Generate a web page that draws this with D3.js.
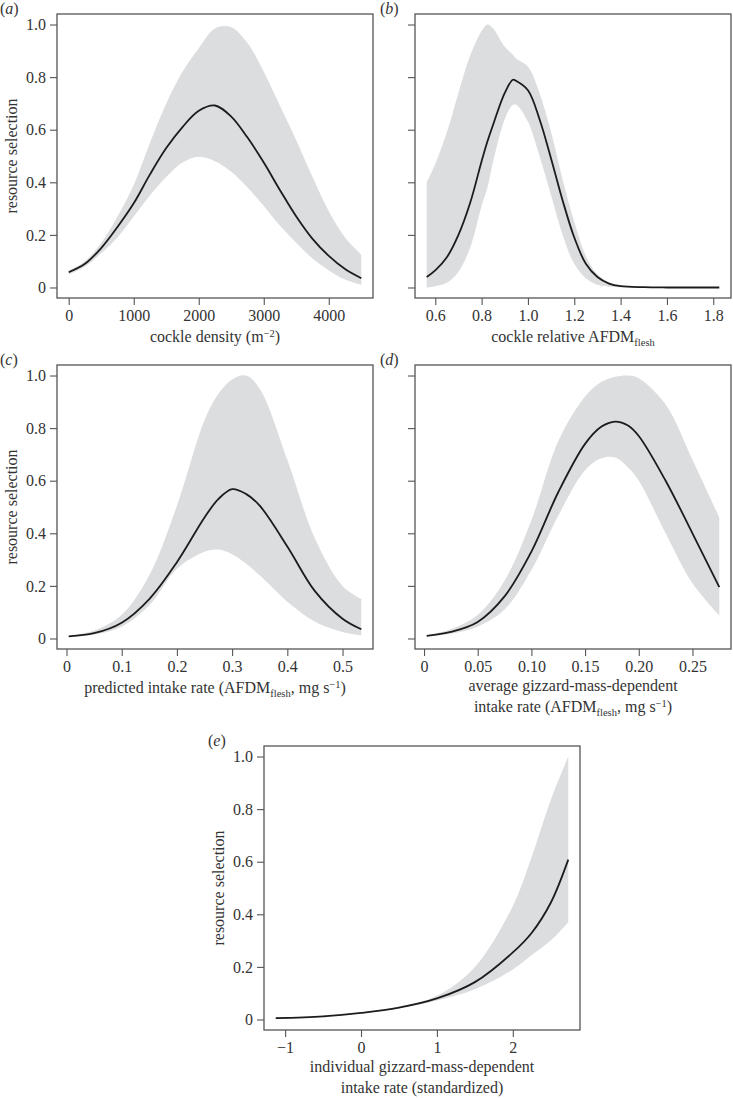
<!DOCTYPE html>
<html>
<head>
<meta charset="utf-8">
<script src="https://cdn.jsdelivr.net/npm/d3@7"></script>
<style>
  body { margin: 0; background: #fff; }
  svg { display: block; font-family: "Liberation Serif", "Times New Roman", serif; }
</style>
</head>
<body>
<svg></svg>
<script>
const yTicks = [0, 0.2, 0.4, 0.6, 0.8, 1.0]

// (a) cockle density
const densX = [0, 250, 500, 750, 1000, 1250, 1500, 1750, 2000, 2250, 2500, 2750, 3000, 3250, 3500, 3750, 4000, 4250, 4500]
const densMean = [0.058, 0.09, 0.15, 0.23, 0.32, 0.43, 0.53, 0.61, 0.672, 0.692, 0.65, 0.57, 0.475, 0.37, 0.27, 0.185, 0.12, 0.07, 0.035]
const densLo = [0.05, 0.08, 0.13, 0.19, 0.27, 0.35, 0.42, 0.475, 0.497, 0.48, 0.44, 0.38, 0.31, 0.235, 0.17, 0.11, 0.065, 0.03, 0.01]
const densHi = [0.065, 0.1, 0.17, 0.27, 0.39, 0.55, 0.70, 0.82, 0.91, 0.985, 0.99, 0.93, 0.82, 0.69, 0.56, 0.42, 0.29, 0.19, 0.125]
const densTicks = [0, 1000, 2000, 3000, 4000]

// (b) cockle relative AFDM flesh
const afdmX = [0.563, 0.6, 0.65, 0.7, 0.75, 0.8, 0.825, 0.85, 0.9, 0.935, 0.95, 1.0, 1.05, 1.1, 1.15, 1.2, 1.25, 1.3, 1.35, 1.4, 1.5, 1.6, 1.7, 1.826]
const afdmMean = [0.04, 0.065, 0.115, 0.2, 0.32, 0.48, 0.555, 0.62, 0.74, 0.79, 0.785, 0.75, 0.64, 0.49, 0.33, 0.19, 0.09, 0.04, 0.015, 0.005, 0.001, 0, 0, 0]
const afdmLo = [0, 0.005, 0.018, 0.06, 0.15, 0.31, 0.38, 0.48, 0.64, 0.695, 0.695, 0.63, 0.5, 0.35, 0.2, 0.09, 0.035, 0.01, 0.003, 0.001, 0, 0, 0, 0]
const afdmHi = [0.40, 0.47, 0.59, 0.74, 0.88, 0.975, 1.0, 0.985, 0.915, 0.885, 0.87, 0.84, 0.74, 0.59, 0.41, 0.25, 0.12, 0.05, 0.02, 0.008, 0.002, 0, 0, 0]
const afdmTicks = [0.6, 0.8, 1.0, 1.2, 1.4, 1.6, 1.8]

// (c) predicted intake rate
const predX = [0.004, 0.05, 0.1, 0.15, 0.2, 0.25, 0.275, 0.3, 0.325, 0.35, 0.4, 0.45, 0.5, 0.534]
const predMean = [0.008, 0.02, 0.06, 0.15, 0.29, 0.46, 0.53, 0.568, 0.55, 0.505, 0.35, 0.18, 0.075, 0.035]
const predLo = [0.006, 0.015, 0.045, 0.126, 0.265, 0.33, 0.338, 0.32, 0.285, 0.24, 0.14, 0.064, 0.025, 0.012]
const predHi = [0.01, 0.03, 0.09, 0.24, 0.505, 0.83, 0.93, 0.985, 1.0, 0.95, 0.68, 0.38, 0.2, 0.15]
const predTicks = [0, 0.1, 0.2, 0.3, 0.4, 0.5]

// (d) average gizzard-mass-dependent intake rate
const avgX = [0.0025, 0.025, 0.05, 0.075, 0.1, 0.125, 0.15, 0.165, 0.178, 0.19, 0.2, 0.225, 0.25, 0.275]
const avgMean = [0.01, 0.025, 0.063, 0.16, 0.33, 0.556, 0.74, 0.805, 0.825, 0.81, 0.77, 0.6, 0.4, 0.195]
const avgLo = [0.008, 0.018, 0.045, 0.11, 0.26, 0.467, 0.64, 0.685, 0.688, 0.65, 0.6, 0.4, 0.21, 0.088]
const avgHi = [0.012, 0.035, 0.09, 0.22, 0.45, 0.75, 0.92, 0.975, 0.995, 1.0, 0.99, 0.89, 0.68, 0.46]
const avgTicks = [0, 0.05, 0.10, 0.15, 0.20, 0.25]

// (e) individual gizzard-mass-dependent intake rate
const indX = [-1.124, -0.5, 0, 0.5, 1, 1.5, 2, 2.25, 2.5, 2.731]
const indMean = [0.005, 0.012, 0.025, 0.045, 0.08, 0.142, 0.255, 0.33, 0.444, 0.608]
const indLo = [0.005, 0.012, 0.024, 0.043, 0.072, 0.115, 0.19, 0.245, 0.3, 0.37]
const indHi = [0.005, 0.012, 0.026, 0.048, 0.09, 0.2, 0.432, 0.62, 0.835, 1.0]
const indTicks = [-1, 0, 1, 2]

const width = 733
const height = 1098
const boxW = 316
const boxH = 284
const ink = '#333'

const svg = d3.select('svg').attr('width', width).attr('height', height)

const zeroOr = f => d => d === 0 ? '0' : f(d)

const panels = [
  { tag: 'a', left: 57, top: 14, tagX: 0, showY: true, x: densX, mean: densMean, lo: densLo, hi: densHi,
    ticks: densTicks, fmt: d3.format('d'),
    title: [[{ t: 'cockle density (m' }, { t: '−2', sup: true }, { t: ')' }]] },
  { tag: 'b', left: 415, top: 14, tagX: 380, showY: false, x: afdmX, mean: afdmMean, lo: afdmLo, hi: afdmHi,
    ticks: afdmTicks, fmt: d3.format('.1f'),
    title: [[{ t: 'cockle relative AFDM' }, { t: 'flesh', sub: true }]] },
  { tag: 'c', left: 57, top: 365, tagX: 0, showY: true, x: predX, mean: predMean, lo: predLo, hi: predHi,
    ticks: predTicks, fmt: zeroOr(d3.format('.1f')),
    title: [[{ t: 'predicted intake rate (AFDM' }, { t: 'flesh', sub: true }, { t: ', mg s' }, { t: '−1', sup: true }, { t: ')' }]] },
  { tag: 'd', left: 415, top: 365, tagX: 380, showY: false, x: avgX, mean: avgMean, lo: avgLo, hi: avgHi,
    ticks: avgTicks, fmt: zeroOr(d3.format('.2f')),
    title: [[{ t: 'average gizzard-mass-dependent' }],
            [{ t: 'intake rate (AFDM' }, { t: 'flesh', sub: true }, { t: ', mg s' }, { t: '−1', sup: true }, { t: ')' }]] },
  { tag: 'e', left: 264, top: 746, tagX: 208, showY: true, x: indX, mean: indMean, lo: indLo, hi: indHi,
    ticks: indTicks, fmt: d3.format('d'),
    title: [[{ t: 'individual gizzard-mass-dependent' }], [{ t: 'intake rate (standardized)' }]] }
]

const writeLine = (text, parts) => {
  let shift = 0
  parts.forEach(p => {
    const target = p.sup ? -5 : p.sub ? 4 : 0
    text.append('tspan')
      .attr('dy', target - shift)
      .attr('font-size', p.sup || p.sub ? 10.5 : null)
      .text(p.t)
    shift = target
  })
}

const render = (p) => {
  const data = p.x.map((x, i) => ({ x: x, mean: p.mean[i], lo: p.lo[i], hi: p.hi[i] }))

  // R-style 4% padding on both axes
  const ext = d3.extent(p.x)
  const pad = (ext[1] - ext[0]) * 0.04
  const xScale = d3.scaleLinear().domain([ext[0] - pad, ext[1] + pad]).range([0, boxW])
  const yScale = d3.scaleLinear().domain([-0.04, 1.04]).range([boxH, 0])
  const curve = d3.curveCatmullRom.alpha(0.5)

  const g = svg.append('g').attr('transform', `translate(${p.left},${p.top})`)

  g.append('path')
    .datum(data)
    .attr('fill', '#dcdddf')
    .attr('d', d3.area()
      .x(d => xScale(d.x))
      .y0(d => yScale(d.lo))
      .y1(d => yScale(d.hi))
      .curve(curve))

  g.append('path')
    .datum(data)
    .attr('fill', 'none')
    .attr('stroke', '#1c1c1c')
    .attr('stroke-width', 1.8)
    .attr('d', d3.line()
      .x(d => xScale(d.x))
      .y(d => yScale(d.mean))
      .curve(curve))

  const xAxisG = g.append('g')
    .attr('transform', `translate(0,${boxH})`)
    .call(d3.axisBottom(xScale).tickValues(p.ticks).tickFormat(p.fmt).tickSize(7).tickPadding(5))
  const yAxisG = g.append('g')
    .call(d3.axisLeft(yScale).tickValues(yTicks).tickFormat(p.showY ? zeroOr(d3.format('.1f')) : '').tickSize(7).tickPadding(4))

  ;[xAxisG, yAxisG].forEach(a => {
    a.attr('font-family', null).attr('font-size', 16)
    a.select('.domain').remove()
    a.selectAll('line').attr('stroke', '#555').attr('stroke-width', 1.1)
    a.selectAll('text').attr('fill', ink)
  })

  g.append('rect')
    .attr('width', boxW).attr('height', boxH)
    .attr('fill', 'none').attr('stroke', '#555').attr('stroke-width', 1.3)

  p.title.forEach((line, i) => {
    const t = g.append('text')
      .attr('x', boxW / 2)
      .attr('y', boxH + (p.title.length > 1 ? 42 + i * 21 : 44))
      .attr('text-anchor', 'middle')
      .attr('font-size', 16)
      .attr('fill', ink)
    writeLine(t, line)
  })

  if (p.showY) {
    g.append('text')
      .attr('transform', `translate(-40,${boxH / 2}) rotate(-90)`)
      .attr('text-anchor', 'middle')
      .attr('font-size', 16)
      .attr('fill', ink)
      .text('resource selection')
  }

  const tag = svg.append('text')
    .attr('x', p.tagX)
    .attr('y', p.top)
    .attr('font-size', 16)
    .attr('fill', ink)
  tag.append('tspan').text('(')
  tag.append('tspan').attr('font-style', 'italic').text(p.tag)
  tag.append('tspan').text(')')
}

panels.forEach(render)
</script>
</body>
</html>
